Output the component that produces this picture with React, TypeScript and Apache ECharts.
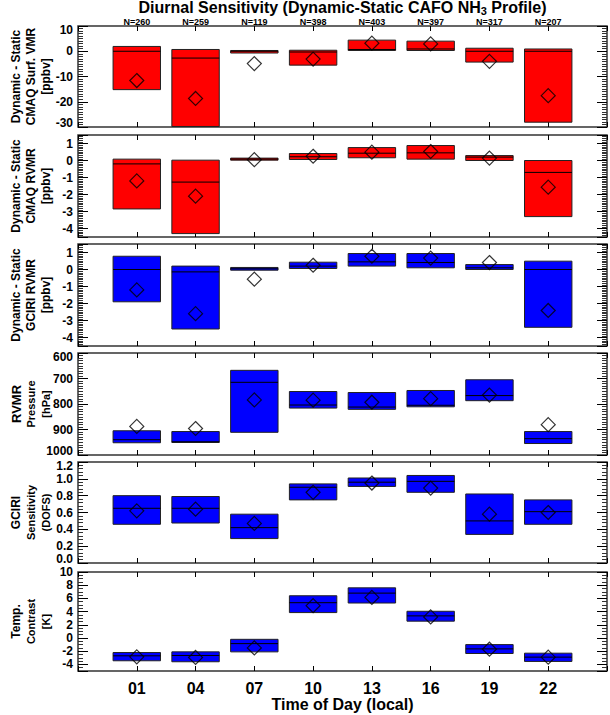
import React, { useEffect, useRef } from 'react';
import * as echarts from 'echarts';

// ---------- data ----------
const hourLabels = ['01', '04', '07', '10', '13', '16', '19', '22'];
const hourValues = [1, 4, 7, 10, 13, 16, 19, 22];
const nCounts = [260, 259, 119, 398, 403, 397, 317, 207];

// Panel 1: Dynamic - Static CMAQ Surf. VMR [ppbv]
const surfTop = [1.9, 0.7, 0.3, 0.4, 4.4, 4.0, 1.2, 0.9];
const surfMed = [0, -2.7, 0, -0.3, 0.7, 0.9, 0, 0];
const surfBot = [-15.2, -29.8, -0.7, -5.5, 0.3, 0.3, -4.3, -28.1];
const surfMean = [-11.6, -18.7, -4.9, -3.1, 3.2, 2.9, -4.0, -17.6];

// Panel 2: Dynamic - Static CMAQ RVMR [ppbv]
const cmaqTop = [0.08, 0.02, 0.14, 0.41, 0.76, 0.88, 0.29, 0.0];
const cmaqMed = [-0.2, -1.27, 0.08, 0.22, 0.43, 0.45, 0.2, -0.7];
const cmaqBot = [-2.85, -4.3, 0.02, 0.06, 0.16, 0.08, 0.0, -3.3];
const cmaqMean = [-1.2, -2.1, 0.05, 0.25, 0.49, 0.53, 0.14, -1.57];

// Panel 3: Dynamic - Static GCIRI RVMR [ppbv]
const gciriTop = [0.78, 0.2, 0.12, 0.43, 0.94, 0.94, 0.29, 0.49];
const gciriMed = [0, -0.14, 0.04, 0.2, 0.45, 0.41, 0.1, 0];
const gciriBot = [-1.9, -3.5, -0.04, 0.06, 0.2, 0.1, 0, -3.4];
const gciriMean = [-1.2, -2.6, -0.57, 0.25, 0.78, 0.67, 0.41, -2.41];

// Panel 4: RVMR Pressure [hPa]
const presTop = [905, 908, 668, 751, 755, 747, 705, 908];
const presMed = [940, 948, 715, 804, 812, 805, 767, 936];
const presBot = [952, 951, 911, 816, 821, 811, 787, 955];
const presMean = [888, 896, 784, 785, 793, 779, 765, 881];

// Panel 5: GCIRI Sensitivity (DOFS)
const dofsTop = [0.8, 0.79, 0.58, 0.94, 1.01, 1.04, 0.82, 0.75];
const dofsMed = [0.65, 0.65, 0.42, 0.9, 0.96, 0.97, 0.5, 0.61];
const dofsBot = [0.46, 0.475, 0.29, 0.75, 0.91, 0.84, 0.34, 0.46];
const dofsMean = [0.62, 0.64, 0.47, 0.84, 0.95, 0.89, 0.58, 0.6];

// Panel 6: Temp. Contrast [K]
const tcTop = [-2.2, -2.1, -0.2, 6.4, 7.6, 4.05, -1.0, -2.3];
const tcMed = [-2.7, -2.65, -0.85, 5.35, 6.8, 3.35, -1.65, -2.9];
const tcBot = [-3.45, -3.6, -2.1, 3.85, 5.3, 2.55, -2.35, -3.55];
const tcMean = [-2.85, -2.95, -1.5, 4.9, 6.15, 3.2, -1.7, -2.9];

// ---------- layout / style ----------
const FONT = 'Liberation Sans, Arial, Helvetica, sans-serif';
const RED = '#ff0000';
const BLUE = '#0000ff';
const X_SHIFT = 2; // axis runs from hour -2 to 25
const HALF_W = 1.21; // half box width in hours
const GRID_LEFT = 78;
const GRID_RIGHT = 3;
const GRID_TOPS = [26, 135, 244, 353, 462, 572];
const GRID_HS = [101, 102, 102, 102, 101, 99];
const TICK_COLOR = '#000';
const MINOR_COLOR = '#333';
const NX = 4; // x axes per grid
const NY = 3; // y axes per grid

type Panel = {
  top: number[]; med: number[]; bot: number[]; mean: number[];
  color: string; title: string[]; titleSizes: number[];
  y: any;
};

const panels: Panel[] = [
  {
    top: surfTop, med: surfMed, bot: surfBot, mean: surfMean, color: RED,
    title: ['Dynamic - Static', 'CMAQ Surf. VMR', '[ppbv]'], titleSizes: [12, 12, 12],
    y: { min: -30, max: 10, interval: 10, minor: 10, alignMin: 'bottom', alignMax: 'top', lh: 8 },
  },
  {
    top: cmaqTop, med: cmaqMed, bot: cmaqBot, mean: cmaqMean, color: RED,
    title: ['Dynamic - Static', 'CMAQ RVMR', '[ppbv]'], titleSizes: [12, 12, 12],
    y: { min: -4.5, max: 1.5, splitNumber: 6, minInterval: 1, maxInterval: 1, minor: 10, showMin: false, showMax: false },
  },
  {
    top: gciriTop, med: gciriMed, bot: gciriBot, mean: gciriMean, color: BLUE,
    title: ['Dynamic - Static', 'GCIRI RVMR', '[ppbv]'], titleSizes: [12, 12, 12],
    y: { min: -4.5, max: 1.5, splitNumber: 6, minInterval: 1, maxInterval: 1, minor: 10, showMin: false, showMax: false },
  },
  {
    top: presTop, med: presMed, bot: presBot, mean: presMean, color: BLUE,
    title: ['RVMR', 'Pressure', '[hPa]'], titleSizes: [13, 11, 11],
    y: { min: 600, max: 1000, interval: 100, inverse: true, minor: 10, alignMin: 'top', alignMax: 'bottom', lh: 8 },
  },
  {
    top: dofsTop, med: dofsMed, bot: dofsBot, mean: dofsMean, color: BLUE,
    title: ['GCIRI', 'Sensitivity', '(DOFS)'], titleSizes: [12, 11, 11],
    y: { min: 0, max: 1.2, interval: 0.2, minor: 5, alignMin: 'bottom', alignMax: 'top', lh: 8, fmt: (v: number) => v.toFixed(1) },
  },
  {
    top: tcTop, med: tcMed, bot: tcBot, mean: tcMean, color: BLUE,
    title: ['Temp.', 'Contrast', '[K]'], titleSizes: [12, 11, 11],
    y: { min: -5, max: 10, splitNumber: 7, minInterval: 2, maxInterval: 2, minor: 4, showMin: false },
  },
];

function hourFormatter(v: number) {
  const idx = hourValues.indexOf(Math.round(v - X_SHIFT));
  return idx >= 0 && Math.abs(v - X_SHIFT - hourValues[idx]) < 1e-6 ? hourLabels[idx] : '';
}
function nFormatter(v: number) {
  const idx = hourValues.indexOf(Math.round(v - X_SHIFT));
  return idx >= 0 && Math.abs(v - X_SHIFT - hourValues[idx]) < 1e-6 ? 'N=' + nCounts[idx] : '';
}

function buildOption() {
  const grid: any[] = [];
  const xAxis: any[] = [];
  const yAxis: any[] = [];
  const series: any[] = [];
  const graphic: any[] = [];

  panels.forEach((p, i) => {
    grid.push({
      left: GRID_LEFT, right: GRID_RIGHT, top: GRID_TOPS[i], height: GRID_HS[i],
      show: true, borderColor: '#333', borderWidth: 1.5, backgroundColor: 'transparent',
    });

    // ----- x axes: [bottom labels (data), top labels, bottom ticks, top ticks]
    const xBase = {
      gridIndex: i, type: 'value', min: 0, max: 27, interval: 3,
      axisLine: { show: false, onZero: false },
      splitLine: { show: false },
    };
    const noTick = { axisTick: { show: false }, minorTick: { show: false } };
    const xTick = {
      axisTick: { show: true, inside: true, length: 5, lineStyle: { color: TICK_COLOR, width: 1 } },
      axisLabel: { show: false },
    };
    xAxis.push({
      ...xBase, ...noTick, position: 'bottom',
      axisLabel: {
        show: i === panels.length - 1, formatter: hourFormatter, margin: 9,
        fontSize: 16, fontWeight: 'bold', fontFamily: FONT, color: '#000',
        showMinLabel: false, showMaxLabel: false,
      },
    });
    xAxis.push({
      ...xBase, ...noTick, position: 'top',
      axisLabel: {
        show: i === 0, formatter: nFormatter, margin: 0,
        fontSize: 9, fontWeight: 'bold', fontFamily: FONT, color: '#000',
        showMinLabel: false, showMaxLabel: false,
      },
    });
    xAxis.push({ ...xBase, ...xTick, position: 'bottom' });
    xAxis.push({ ...xBase, ...xTick, position: 'top' });

    // ----- y axes: [left labels (data), left ticks, right ticks]
    const yc = p.y;
    const yBase: any = {
      gridIndex: i, type: 'value', min: yc.min, max: yc.max,
      inverse: !!yc.inverse,
      axisLine: { show: false, onZero: false },
      splitLine: { show: false },
    };
    if (yc.interval != null) yBase.interval = yc.interval;
    if (yc.splitNumber != null) yBase.splitNumber = yc.splitNumber;
    if (yc.minInterval != null) yBase.minInterval = yc.minInterval;
    if (yc.maxInterval != null) yBase.maxInterval = yc.maxInterval;
    const yTick = {
      axisTick: { show: true, inside: true, length: 10, lineStyle: { color: TICK_COLOR, width: 1 } },
      minorTick: { show: true, splitNumber: yc.minor, length: 5, lineStyle: { color: MINOR_COLOR, width: 1 } },
      axisLabel: { show: false },
    };
    yAxis.push({
      ...yBase, ...noTick, position: 'left',
      axisLabel: {
        show: true, margin: 5, fontSize: 12, fontWeight: 'bold', fontFamily: FONT, color: '#000',
        lineHeight: yc.lh || 12,
        formatter: yc.fmt || ((v: number) => String(v)),
        showMinLabel: yc.showMin !== false, showMaxLabel: yc.showMax !== false,
        verticalAlignMinLabel: yc.alignMin || 'middle',
        verticalAlignMaxLabel: yc.alignMax || 'middle',
      },
    });
    yAxis.push({ ...yBase, ...yTick, position: 'left' });
    yAxis.push({ ...yBase, ...yTick, position: 'right' });

    const boxData = hourValues.map((h, k) => [h + X_SHIFT, p.top[k], p.med[k], p.bot[k]]);
    const color = p.color;
    series.push({
      type: 'custom',
      xAxisIndex: NX * i,
      yAxisIndex: NY * i,
      data: boxData,
      encode: { x: 0, y: [1, 2, 3] },
      z: 2,
      renderItem: (params: any, api: any) => {
        const x = api.value(0);
        const t = api.value(1);
        const m = api.value(2);
        const b = api.value(3);
        const p1 = api.coord([x - HALF_W, t]);
        const p2 = api.coord([x + HALF_W, b]);
        const m1 = api.coord([x - HALF_W, m]);
        const m2 = api.coord([x + HALF_W, m]);
        const rx = Math.min(p1[0], p2[0]);
        const ry = Math.min(p1[1], p2[1]);
        return {
          type: 'group',
          children: [
            {
              type: 'rect',
              shape: { x: rx, y: ry, width: Math.abs(p2[0] - p1[0]), height: Math.max(2, Math.abs(p2[1] - p1[1])) },
              style: { fill: color, stroke: '#222', lineWidth: 1 },
            },
            {
              type: 'line',
              shape: { x1: m1[0], y1: m1[1], x2: m2[0], y2: m2[1] },
              style: { stroke: '#000', lineWidth: 1 },
            },
          ],
        };
      },
    });
    series.push({
      type: 'scatter',
      xAxisIndex: NX * i,
      yAxisIndex: NY * i,
      data: hourValues.map((h, k) => [h + X_SHIFT, p.mean[k]]),
      symbol: 'diamond',
      symbolSize: 14,
      z: 3,
      itemStyle: { color: 'rgba(255,255,255,0)', borderColor: '#000', borderWidth: 1.2 },
    });

    // rotated axis titles
    const cy = GRID_TOPS[i] + GRID_HS[i] / 2;
    const xs = [16, 31, 46];
    p.title.forEach((line, li) => {
      graphic.push({
        type: 'text', x: xs[li], y: cy, rotation: Math.PI / 2,
        style: {
          text: line, fill: '#000', fontSize: p.titleSizes[li], fontWeight: 'bold', fontFamily: FONT,
          align: 'center', verticalAlign: 'middle', textAlign: 'center', textVerticalAlign: 'middle',
        },
      });
    });
  });

  const plotCenter = GRID_LEFT + (610 - GRID_LEFT - GRID_RIGHT) / 2;
  graphic.push({
    type: 'text', x: plotCenter, y: 7,
    style: {
      text: '{a|Diurnal Sensitivity (Dynamic-Static CAFO NH}{s|3}{a| Profile)}',
      fill: '#000', align: 'center', verticalAlign: 'middle', textAlign: 'center', textVerticalAlign: 'middle',
      rich: {
        a: { fontSize: 16, fontWeight: 'bold', fontFamily: FONT, lineHeight: 18, fill: '#000' },
        s: { fontSize: 11, fontWeight: 'bold', fontFamily: FONT, lineHeight: 8, verticalAlign: 'bottom', fill: '#000' },
      },
    },
  });
  graphic.push({
    type: 'text', x: plotCenter, y: 704,
    style: {
      text: 'Time of Day (local)', fill: '#000', fontSize: 16, fontWeight: 'bold', fontFamily: FONT,
      align: 'center', verticalAlign: 'middle', textAlign: 'center', textVerticalAlign: 'middle',
    },
  });

  return {
    animation: false,
    backgroundColor: '#fff',
    grid, xAxis, yAxis, series, graphic,
  };
}

export default function App() {
  const ref = useRef<HTMLDivElement>(null);
  useEffect(() => {
    if (!ref.current) return;
    const chart = echarts.init(ref.current, undefined, { renderer: 'svg' });
    chart.setOption(buildOption() as any);
    return () => chart.dispose();
  }, []);
  return (
    <div
      ref={ref}
      style={{ position: 'absolute', left: 0, top: 0, width: 610, height: 715, background: '#fff' }}
    />
  );
}
